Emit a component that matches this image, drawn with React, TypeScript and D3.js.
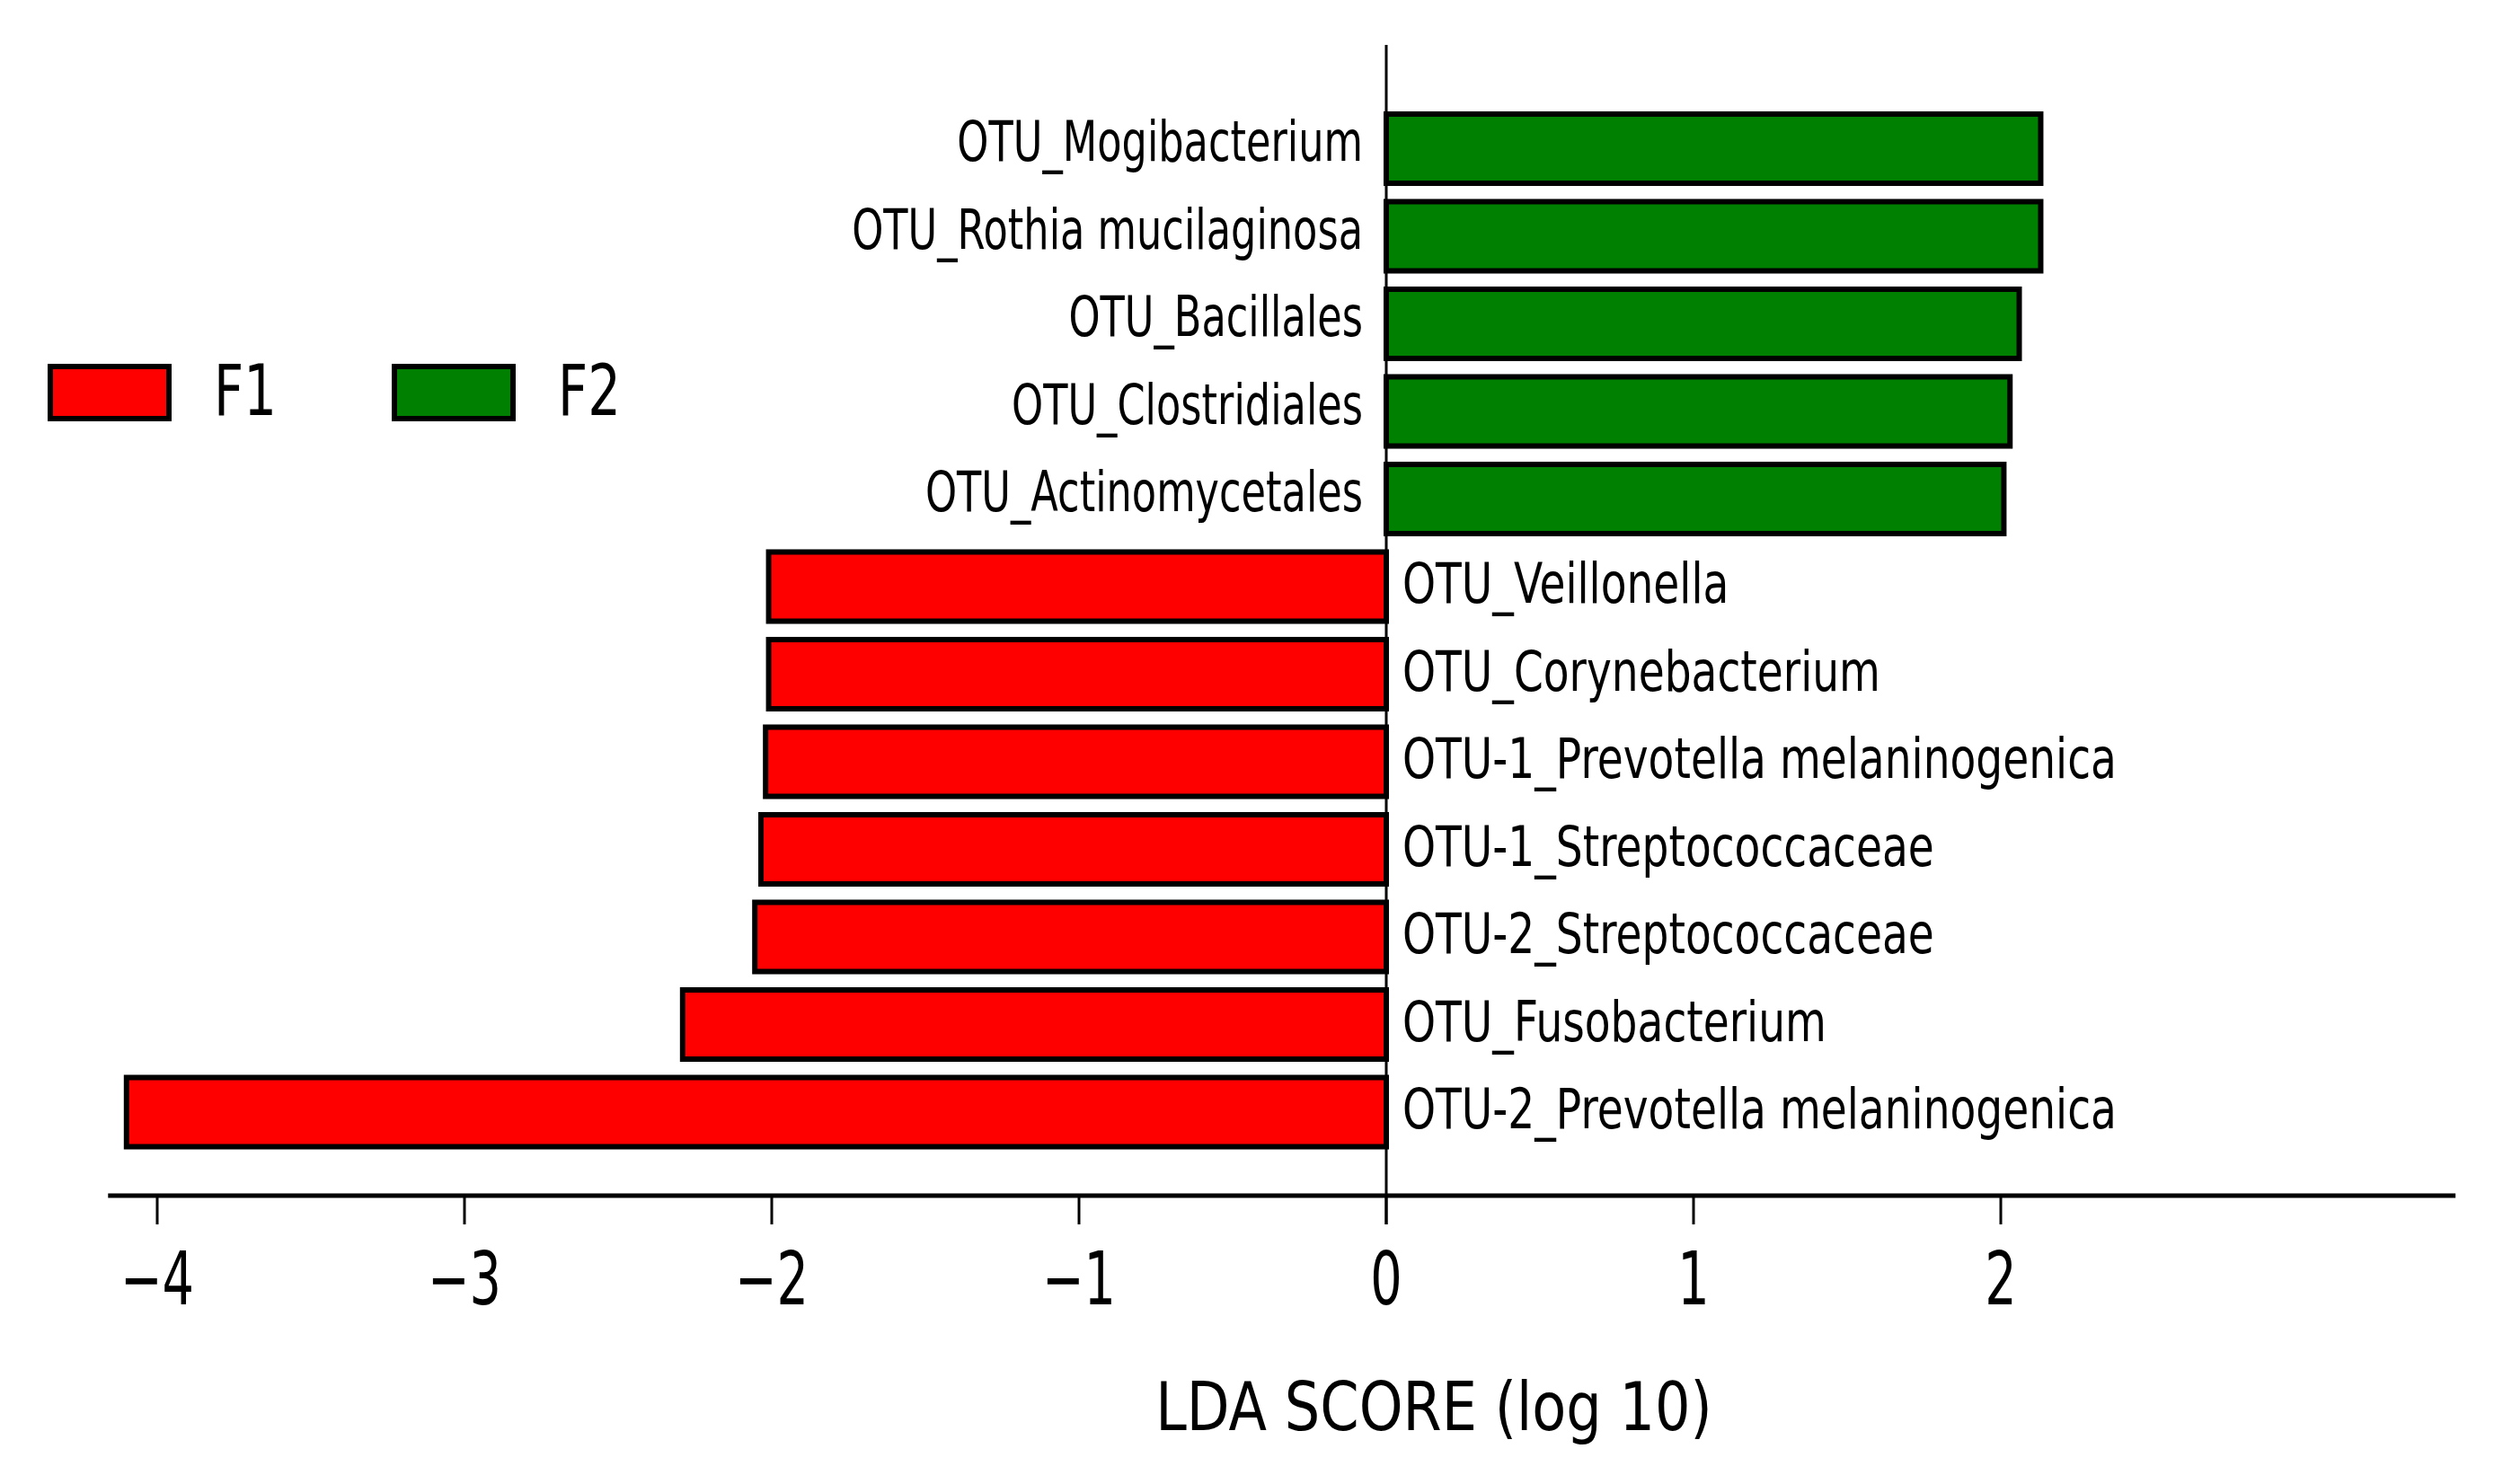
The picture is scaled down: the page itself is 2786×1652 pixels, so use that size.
import * as d3 from "d3";

const WIDTH = 2786;
const HEIGHT = 1652;

const features = [
  "OTU_Mogibacterium",
  "OTU_Rothia mucilaginosa",
  "OTU_Bacillales",
  "OTU_Clostridiales",
  "OTU_Actinomycetales",
  "OTU_Veillonella",
  "OTU_Corynebacterium",
  "OTU-1_Prevotella melaninogenica",
  "OTU-1_Streptococcaceae",
  "OTU-2_Streptococcaceae",
  "OTU_Fusobacterium",
  "OTU-2_Prevotella melaninogenica",
];
const groups = ["F2", "F2", "F2", "F2", "F2", "F1", "F1", "F1", "F1", "F1", "F1", "F1"];
const ldaScores = [2.13, 2.13, 2.06, 2.03, 2.01, -2.01, -2.01, -2.02, -2.035, -2.055, -2.29, -4.1];

const legendGroups = ["F1", "F2"];
const groupColors: Record<string, string> = { F1: "#ff0000", F2: "#008000" };
const xTicks = [-4, -3, -2, -1, 0, 1, 2];
const AXIS_MIN = -4.16;
const AXIS_MAX = 3.48;

const FONT = "'DejaVu Sans', sans-serif";

const App = () => {
  const x = d3.scaleLinear().domain([-4, 2]).range([175, 2227]);
  const y = d3.scaleBand<string>().domain(features).range([106.5, 1297]).padding(0.21);

  const x0 = x(0);
  const axisY = 1331;
  const fmt = (v: number) => (v < 0 ? "\u2212" + Math.abs(v) : String(v));

  return (
    <div>
      <style>{`body{margin:0}`}</style>
      <svg width={WIDTH} height={HEIGHT} style={{ display: "block", background: "#fff" }}>
        {/* bars */}
        {features.map((f, i) => {
          const v = ldaScores[i];
          return (
            <rect
              key={f}
              x={Math.min(x0, x(v))}
              y={y(f)}
              width={Math.abs(x(v) - x0)}
              height={y.bandwidth()}
              fill={groupColors[groups[i]]}
              stroke="#000"
              strokeWidth={6}
            />
          );
        })}

        {/* feature labels */}
        {features.map((f, i) => {
          const v = ldaScores[i];
          const cy = (y(f) ?? 0) + y.bandwidth() / 2 + (v > 0 ? 14 : 18);
          const lx = v > 0 ? x0 - 26 : x0 + 18;
          return (
            <text
              key={f + "-lab"}
              transform={`translate(${lx},${cy}) scale(${v > 0 ? 0.72 : 0.76},1)`}
              textAnchor={v > 0 ? "end" : "start"}
              fontFamily={FONT}
              fontSize={62}
              fill="#000"
            >
              {f}
            </text>
          );
        })}

        {/* zero line */}
        <line x1={x0} x2={x0} y1={50} y2={1363} stroke="#000" strokeWidth={3} />

        {/* x axis */}
        <line x1={x(AXIS_MIN)} x2={x(AXIS_MAX)} y1={axisY} y2={axisY} stroke="#000" strokeWidth={5} />
        {xTicks.map((t) => (
          <g key={t}>
            <line x1={x(t)} x2={x(t)} y1={axisY} y2={1363} stroke="#000" strokeWidth={3} />
            <text
              transform={`translate(${x(t)},1452) scale(0.68,1)`}
              textAnchor="middle"
              fontFamily={FONT}
              fontSize={82}
              fill="#000"
            >
              {fmt(t)}
            </text>
          </g>
        ))}
        <text
          transform={`translate(1596,1592) scale(0.84,1)`}
          textAnchor="middle"
          fontFamily={FONT}
          fontSize={74}
          fill="#000"
        >
          LDA SCORE (log 10)
        </text>

        {/* legend */}
        {legendGroups.map((g, i) => {
          const lx = 56 + i * 383;
          return (
            <g key={g}>
              <rect x={lx} y={408} width={132} height={58} fill={groupColors[g]} stroke="#000" strokeWidth={6} />
              <text
                transform={`translate(${lx + 182},462) scale(0.74,1)`}
                fontFamily={FONT}
                fontSize={78}
                fill="#000"
              >
                {g}
              </text>
            </g>
          );
        })}
      </svg>
    </div>
  );
};

export default App;
